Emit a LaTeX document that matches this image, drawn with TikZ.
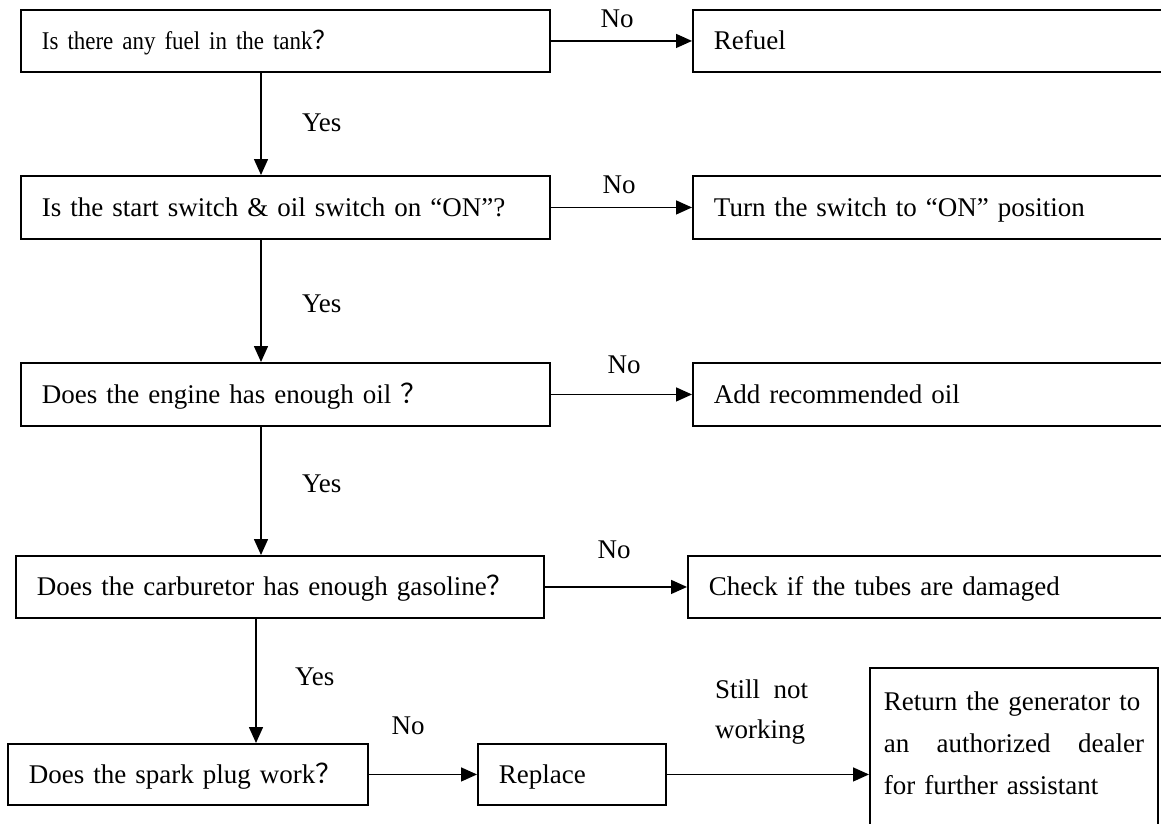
\documentclass[tikz,border=0pt]{standalone}
\usepackage{fontspec}
\setmainfont{Liberation Serif}
\newfontfamily\narrowserif[FakeStretch=0.9]{Liberation Serif}
\newfontfamily\cjk{Noto Sans CJK SC}
\usetikzlibrary{arrows.meta}
\begin{document}
\begin{tikzpicture}[x=1pt,y=-1pt,
  box/.style={draw, line width=1.9pt, anchor=north west, inner xsep=21pt, inner ysep=0pt,
    align=left, text height=22pt, text depth=4pt, font=\fontsize{27}{40}\selectfont},
  tallbox/.style={draw, line width=1.9pt, anchor=north west, inner xsep=14pt, inner ysep=23.5pt,
    align=left, text width=260pt, font=\fontsize{27}{42}\selectfont},
  arr/.style={line width=1.5pt, -{Triangle[length=16pt,width=14pt]}},
  lbl/.style={inner sep=0pt, font=\fontsize{27}{40}\selectfont}]
\clip (0,0) rectangle (1161,823);
\fill[white] (0,0) rectangle (1161,823);

% left column questions
\node[box, text width=487pt, minimum height=62pt] (q1) at (20,9) {\narrowserif\fontsize{25.5}{30}\selectfont Is there any fuel in the tank\cjk{？}};
\node[box, text width=487pt, minimum height=63pt] (q2) at (20,175) {Is the start switch \& oil switch on “ON”?};
\node[box, text width=487pt, minimum height=63pt] (q3) at (20,362) {Does the engine has enough oil\ \cjk{？}};
\node[box, text width=486pt, minimum height=62pt] (q4) at (15,555) {Does the carburetor has enough gasoline\cjk{？}};
\node[box, text width=318pt, minimum height=61pt] (q5) at (7,743) {Does the spark plug work\cjk{？}};

% right column actions
\node[box, text width=448pt, minimum height=62pt] (r1) at (692,9) {Refuel};
\node[box, text width=448pt, minimum height=63pt] (r2) at (692,175) {Turn the switch to “ON” position};
\node[box, text width=448pt, minimum height=63pt] (r3) at (692,362) {Add recommended oil};
\node[box, text width=453pt, minimum height=62pt] (r4) at (687,555) {Check if the tubes are damaged};
\node[box, text width=146pt, minimum height=61pt] (rep) at (477,743) {Replace};
\node[tallbox] (ret) at (869,667) {Return the generator to\\an\hfill authorized\hfill dealer\\for further assistant\\\mbox{}};

% column coordinates for the vertical arrows
\coordinate (c1) at (261,0);
\coordinate (c2) at (256,0);

% Yes arrows
\draw[arr] (q1.south -| c1) -- (q2.north -| c1);
\draw[arr] (q2.south -| c1) -- (q3.north -| c1);
\draw[arr] (q3.south -| c1) -- (q4.north -| c1);
\draw[arr] (q4.south -| c2) -- (q5.north -| c2);

% No arrows
\draw[arr] (q1.east) -- (r1.west);
\draw[arr] (q2.east) -- (r2.west);
\draw[arr] (q3.east) -- (r3.west);
\draw[arr] (q4.east) -- (r4.west);
\draw[arr] (q5.east) -- (rep.west);
\draw[arr] (rep.east) -- (rep.east -| ret.west);

% labels
\node[lbl, anchor=west] (y1) at (302,123) {Yes};
\node[lbl, anchor=west] (y2) at (302,304) {Yes};
\node[lbl, anchor=west] (y3) at (302,484) {Yes};
\node[lbl, anchor=west] (y4) at (295,677) {Yes};
\node[lbl] (n1) at (617,19) {No};
\node[lbl] (n2) at (619,185) {No};
\node[lbl] (n3) at (624,365) {No};
\node[lbl] (n4) at (614,550) {No};
\node[lbl] (n5) at (408,726) {No};
\node[lbl, anchor=north west, align=left] (sn) at (715,680) {Still\ \ not\\working};
\end{tikzpicture}
\end{document}
